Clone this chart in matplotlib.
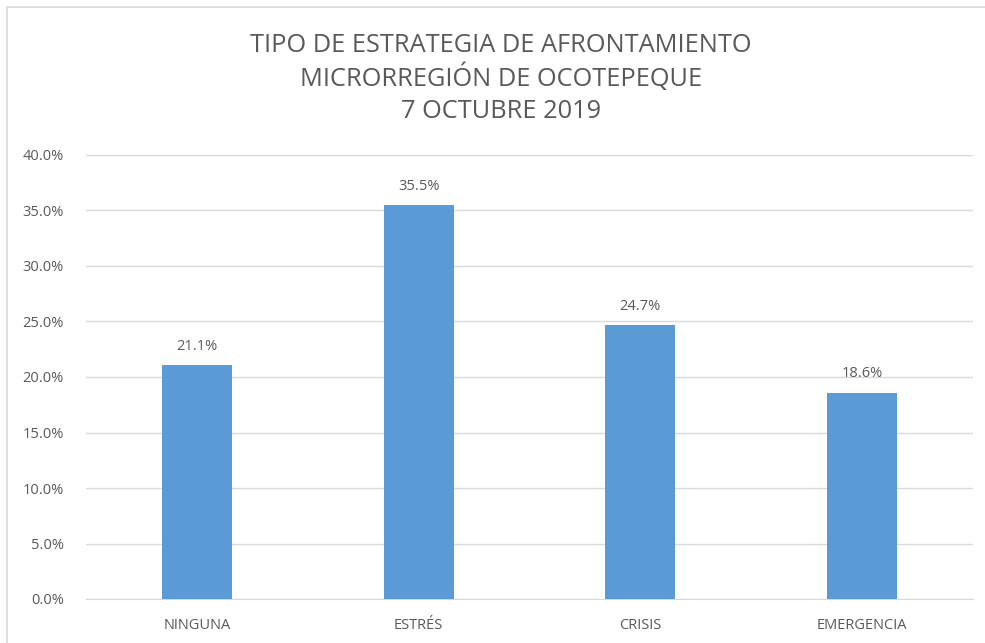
import matplotlib.pyplot as plt
from matplotlib.patches import Rectangle
from matplotlib.ticker import FuncFormatter

categorias = ['NINGUNA', 'ESTRÉS', 'CRISIS', 'EMERGENCIA']
porcentajes = [21.1, 35.5, 24.7, 18.6]
titulo = ['TIPO DE ESTRATEGIA DE AFRONTAMIENTO', 'MICRORREGIÓN DE OCOTEPEQUE', '7 OCTUBRE 2019']

gris = '#595959'
plt.rcParams['font.family'] = ['Open Sans', 'DejaVu Sans']

fig = plt.figure(figsize=(9.85, 6.43), dpi=100)
# marco del grafico
fig.patches.append(Rectangle((7 / 985, -0.01), 1.0, 1 - 7 / 643 + 0.01,
                             transform=fig.transFigure, fill=False,
                             edgecolor='#D9D9D9', linewidth=1.2))

ax = fig.add_axes([86 / 985, 1 - 599 / 643, (973 - 86) / 985, (599 - 155) / 643])
x = range(len(categorias))
bars = ax.bar(x, porcentajes, width=0.315, color='#5B9BD5', zorder=3)
for b, v in zip(bars, porcentajes):
    ax.text(b.get_x() + b.get_width() / 2, v + 1.0, f'{v:.1f}%',
            ha='center', va='bottom', fontsize=10.5, color=gris)

ax.set_xlim(-0.5, len(categorias) - 0.5)
ax.set_ylim(0, 40)
ax.set_yticks([i * 5 for i in range(9)])
ax.yaxis.set_major_formatter(FuncFormatter(lambda v, p: f'{v:.1f}%'))
ax.set_xticks(list(x))
ax.set_xticklabels(categorias)
ax.tick_params(axis='both', length=0, labelsize=10.5, colors=gris)
ax.tick_params(axis='x', pad=14)
ax.tick_params(axis='y', pad=16)
ax.grid(axis='y', color='#D9D9D9', linewidth=1, zorder=0)
for s in ['top', 'right', 'left']:
    ax.spines[s].set_visible(False)
ax.spines['bottom'].set_color('#D9D9D9')

for linea, yy in zip(titulo, [45, 78, 112]):
    fig.text(501 / 985, 1 - yy / 643, linea, ha='center', va='center',
             fontsize=18.3, color=gris)

fig.savefig('out.png', dpi=100)
